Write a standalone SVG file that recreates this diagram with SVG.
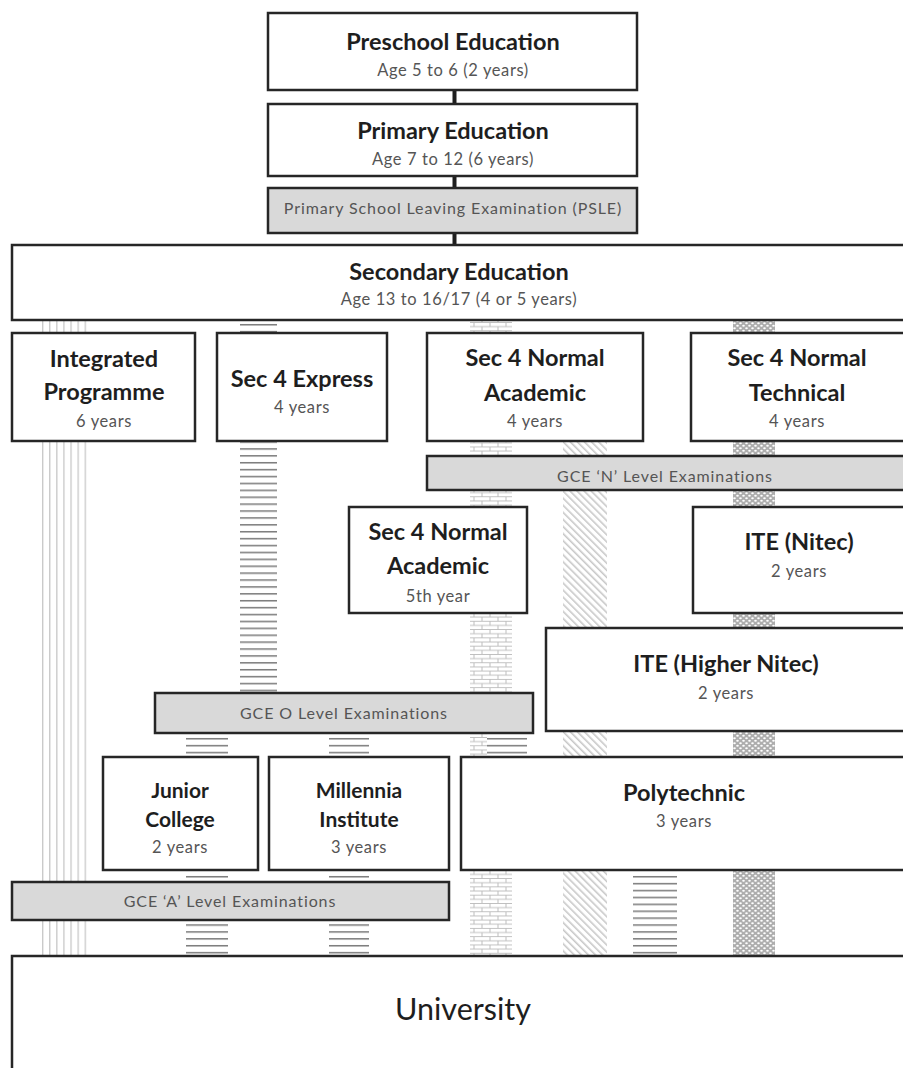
<svg xmlns="http://www.w3.org/2000/svg" width="903" height="1068" viewBox="0 0 903 1068">
<style>
.box{fill:#fff;stroke:#262626;stroke-width:2.5}
.exam{fill:#d9d9d9;stroke:#262626;stroke-width:2.5}
.t{font-family:Lato,"Open Sans","Liberation Sans",sans-serif;font-weight:700;font-size:23.5px;fill:#1e1e1e;text-anchor:middle}
.t2{font-family:Lato,"Open Sans","Liberation Sans",sans-serif;font-weight:700;font-size:21px;fill:#1e1e1e;text-anchor:middle}
.s{font-family:Lato,"Open Sans","Liberation Sans",sans-serif;font-size:16.5px;letter-spacing:0.6px;fill:#555;text-anchor:middle}
.e{font-family:Lato,"Open Sans","Liberation Sans",sans-serif;font-size:16px;letter-spacing:0.9px;fill:#555;text-anchor:middle}
.u{font-family:Lato,"Open Sans","Liberation Sans",sans-serif;font-size:30.5px;fill:#1e1e1e;text-anchor:middle}
.bar{fill:#1e1e1e}
</style>
<defs>
<pattern id="pv" width="7.1" height="10" patternUnits="userSpaceOnUse" x="42" y="0">
<rect x="0" y="0" width="1.3" height="10" fill="#c8c8c8"/>
</pattern>
<pattern id="ph" width="10" height="6.9" patternUnits="userSpaceOnUse" x="0" y="322">
<rect x="0" y="2" width="10" height="1.5" fill="#7a7a7a"/>
</pattern>
<pattern id="pb" width="16" height="8.3" patternUnits="userSpaceOnUse" x="470" y="322">
<path d="M0 0.5H16M0 4.65H16M4 0.5V4.65M12 4.65V8.3" stroke="#bdbdbd" stroke-width="1" fill="none"/>
</pattern>
<pattern id="pd" width="5" height="5" patternUnits="userSpaceOnUse" patternTransform="rotate(-45)">
<rect x="0" y="0" width="1.6" height="5" fill="#c8c8c8"/>
</pattern>
<pattern id="px" width="6" height="5" patternUnits="userSpaceOnUse" x="733" y="322">
<rect width="6" height="5" fill="#adadad"/>
<ellipse cx="1.5" cy="1.25" rx="1.3" ry="0.9" fill="#fff"/>
<ellipse cx="4.5" cy="3.75" rx="1.3" ry="0.9" fill="#fff"/>
</pattern>
</defs>
<rect width="903" height="1068" fill="#fff"/>
<g id="connectors">
<rect class="bar" x="452.5" y="89" width="4" height="16"/>
<rect class="bar" x="452.5" y="175" width="4" height="14"/>
<rect class="bar" x="452.5" y="232" width="4" height="14"/>
<rect x="42" y="320" width="45" height="636" fill="url(#pv)"/>
<rect x="240" y="320" width="37" height="373" fill="url(#ph)"/>
<rect x="470" y="320" width="42" height="636" fill="url(#pb)"/>
<rect x="563" y="442" width="44" height="514" fill="url(#pd)"/>
<rect x="733" y="320" width="42" height="636" fill="url(#px)"/>
<rect x="186" y="733" width="42" height="223" fill="url(#ph)"/>
<rect x="329" y="733" width="40" height="223" fill="url(#ph)"/>
<rect x="487" y="733" width="40" height="24" fill="#fff"/>
<rect x="487" y="733" width="40" height="24" fill="url(#ph)"/>
<rect x="633" y="870" width="44" height="86" fill="url(#ph)"/>
</g>
<g id="preschool">
<rect class="box" x="268" y="13" width="369" height="77"/>
<text class="t" x="453" y="50">Preschool Education</text>
<text class="s" x="453" y="76">Age 5 to 6 (2 years)</text>
</g>
<g id="primary">
<rect class="box" x="268" y="104" width="369" height="72"/>
<text class="t" x="453" y="139">Primary Education</text>
<text class="s" x="453" y="165">Age 7 to 12 (6 years)</text>
</g>
<g id="psle">
<rect class="exam" x="268" y="188" width="369" height="45"/>
<text class="e" x="453" y="214">Primary School Leaving Examination (PSLE)</text>
</g>
<g id="secondary">
<rect class="box" x="12" y="245" width="894" height="75"/>
<text class="t" x="459" y="280">Secondary Education</text>
<text class="s" x="459" y="305">Age 13 to 16/17 (4 or 5 years)</text>
</g>
<g id="integrated">
<rect class="box" x="12" y="333" width="183" height="108"/>
<text class="t" x="104" y="367">Integrated</text>
<text class="t" x="104" y="400">Programme</text>
<text class="s" x="104" y="427">6 years</text>
</g>
<g id="express">
<rect class="box" x="217" y="333" width="170" height="108"/>
<text class="t" x="302" y="387">Sec 4 Express</text>
<text class="s" x="302" y="413">4 years</text>
</g>
<g id="normal-academic">
<rect class="box" x="427" y="333" width="216" height="108"/>
<text class="t" x="535" y="366">Sec 4 Normal</text>
<text class="t" x="535" y="401">Academic</text>
<text class="s" x="535" y="427">4 years</text>
</g>
<g id="normal-technical">
<rect class="box" x="691" y="333" width="215" height="108"/>
<text class="t" x="797" y="366">Sec 4 Normal</text>
<text class="t" x="797" y="401">Technical</text>
<text class="s" x="797" y="427">4 years</text>
</g>
<g id="n-level">
<rect class="exam" x="427" y="456" width="479" height="34"/>
<text class="e" x="665" y="482">GCE ‘N’ Level Examinations</text>
</g>
<g id="normal-academic-5th">
<rect class="box" x="349" y="507" width="178" height="106"/>
<text class="t" x="438" y="540">Sec 4 Normal</text>
<text class="t" x="438" y="574">Academic</text>
<text class="s" x="438" y="602">5th year</text>
</g>
<g id="ite-nitec">
<rect class="box" x="693" y="507" width="213" height="106"/>
<text class="t" x="799" y="550">ITE (Nitec)</text>
<text class="s" x="799" y="577">2 years</text>
</g>
<g id="ite-higher-nitec">
<rect class="box" x="546" y="628" width="360" height="103"/>
<text class="t" x="726" y="672">ITE (Higher Nitec)</text>
<text class="s" x="726" y="699">2 years</text>
</g>
<g id="o-level">
<rect class="exam" x="155" y="693" width="378" height="40"/>
<text class="e" x="344" y="719">GCE O Level Examinations</text>
</g>
<g id="junior-college">
<rect class="box" x="103" y="757" width="155" height="113"/>
<text class="t2" x="180" y="798">Junior</text>
<text class="t2" x="180" y="827">College</text>
<text class="s" x="180" y="853">2 years</text>
</g>
<g id="millennia">
<rect class="box" x="269" y="757" width="180" height="113"/>
<text class="t2" x="359" y="798">Millennia</text>
<text class="t2" x="359" y="827">Institute</text>
<text class="s" x="359" y="853">3 years</text>
</g>
<g id="polytechnic">
<rect class="box" x="461" y="757" width="445" height="113"/>
<text class="t" x="684" y="801">Polytechnic</text>
<text class="s" x="684" y="827">3 years</text>
</g>
<g id="a-level">
<rect class="exam" x="12" y="882" width="437" height="38"/>
<text class="e" x="230" y="907">GCE ‘A’ Level Examinations</text>
</g>
<g id="university">
<rect class="box" x="12" y="956" width="894" height="120"/>
<text class="u" x="463" y="1020">University</text>
</g>
</svg>
